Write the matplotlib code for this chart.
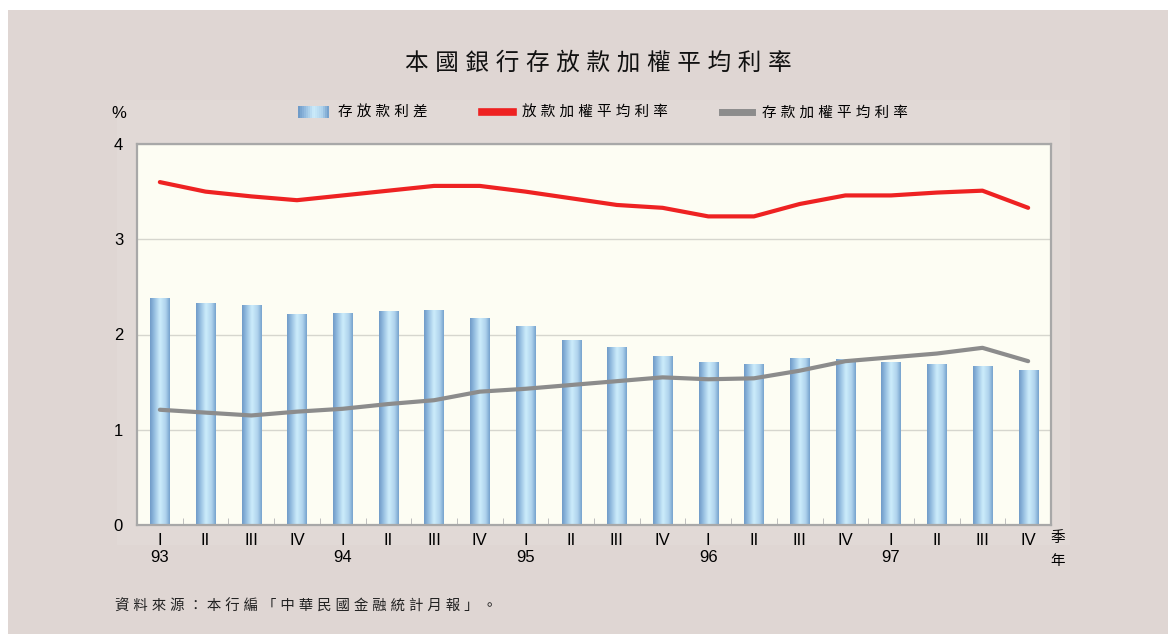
import numpy as np
import matplotlib.pyplot as plt
from matplotlib.colors import LinearSegmentedColormap
from matplotlib.patches import Rectangle
from matplotlib.legend_handler import HandlerBase
from matplotlib.lines import Line2D

plt.rcParams['font.family'] = ['Liberation Sans', 'Noto Sans CJK TC']

# data (quarters 93Q1 .. 97Q4)
quarters = ["I", "II", "III", "IV"] * 5
years = ["93", "94", "95", "96", "97"]
spread = [2.38, 2.33, 2.30, 2.21, 2.22, 2.24, 2.25, 2.17, 2.08, 1.94,
          1.86, 1.77, 1.71, 1.68, 1.75, 1.74, 1.71, 1.69, 1.66, 1.62]
loan_rate = [3.60, 3.50, 3.45, 3.41, 3.46, 3.51, 3.56, 3.56, 3.50, 3.43,
             3.36, 3.33, 3.24, 3.24, 3.37, 3.46, 3.46, 3.49, 3.51, 3.33]
deposit_rate = [1.21, 1.18, 1.15, 1.19, 1.22, 1.27, 1.31, 1.40, 1.43, 1.47,
                1.51, 1.55, 1.53, 1.54, 1.62, 1.72, 1.76, 1.80, 1.86, 1.72]

title = "本國銀行存放款加權平均利率"
legend_labels = ["存放款利差", "放款加權平均利率", "存款加權平均利率"]
source = "資料來源：本行編「中華民國金融統計月報」。"

W, H = 1168, 634


def spaced(s):
    return " ".join(s)


bar_cmap = LinearSegmentedColormap.from_list(
    "bar", [(0, "#6f9bc8"), (0.18, "#8fb8dd"), (0.5, "#cdedfb"),
            (0.8, "#aed2ec"), (1, "#76a2cd")])

fig = plt.figure(figsize=(W / 100, H / 100), dpi=100)
fig.patch.set_facecolor("white")
# pinkish background and slightly lighter panel behind the plot
fig.patches.append(Rectangle((8 / W, 0), 1 - 8 / W, 1 - 10 / H,
                             transform=fig.transFigure, facecolor="#dfd6d3",
                             edgecolor="none", zorder=-10))
fig.patches.append(Rectangle((117 / W, 1 - 545 / H), (1070 - 117) / W, (545 - 100) / H,
                             transform=fig.transFigure, facecolor="#e1d9d6",
                             edgecolor="none", zorder=-9))

ax = fig.add_axes([137 / W, 1 - 525 / H, (1051 - 137) / W, (525 - 144) / H])
ax.set_facecolor("#fdfdf3")

x = np.arange(len(spread))
bars = ax.bar(x, spread, width=0.42, color="none", edgecolor="none", zorder=2)
grad = np.linspace(0, 1, 64).reshape(1, -1)
for b in bars:
    x0, w, h = b.get_x(), b.get_width(), b.get_height()
    ax.imshow(grad, cmap=bar_cmap, extent=[x0, x0 + w, 0, h], aspect="auto",
              interpolation="bicubic", zorder=2)

ax.plot(x, loan_rate, color="#ee2222", lw=3, solid_capstyle="round", zorder=4)
ax.plot(x, deposit_rate, color="#8c8c8c", lw=3, solid_capstyle="round", zorder=4)

ax.set_xlim(-0.5, len(spread) - 0.5)
ax.set_ylim(0, 4)
ax.set_yticks([0, 1, 2, 3, 4])
ax.yaxis.grid(True, color="#d6d6ce", lw=1)
ax.set_axisbelow(True)

ax.set_xticks(x, quarters)
ax.set_xticks(np.arange(0.5, len(spread) - 1, 1), minor=True)
ax.tick_params(axis="x", which="major", length=0, pad=6, labelsize=12)
ax.tick_params(axis="x", which="minor", direction="in", length=5, color="#b5b5b5")
ax.tick_params(axis="y", length=0, pad=10, labelsize=12)

for s in ax.spines.values():
    s.set_color("#a8a8a8")
    s.set_linewidth(1.6)

for i, yr in enumerate(years):
    ax.text(i * 4, -0.086, yr, transform=ax.get_xaxis_transform(),
            ha="center", va="center", fontsize=12)

fig.text(1058 / W, 1 - 538 / H, "季", ha="center", va="center", fontsize=10.5)
fig.text(1058 / W, 1 - 561 / H, "年", ha="center", va="center", fontsize=10.5)
fig.text(119 / W, 1 - 113 / H, "%", ha="center", va="center", fontsize=12)

fig.text(598 / W, 1 - 63 / H, spaced(title), ha="center", va="center",
         fontsize=17, color="#111111")
fig.text(115 / W, 1 - 607 / H, spaced(source), ha="left", va="center",
         fontsize=10.4, color="#222222")


class GradHandler(HandlerBase):
    def create_artists(self, legend, orig, xd, yd, w, h, fontsize, trans):
        n = 16
        hh = h * 1.1
        y0 = yd + (h - hh) / 2
        return [Rectangle((xd + w * i / n, y0), w / n + 0.3, hh,
                          facecolor=bar_cmap(i / (n - 1)), edgecolor="none",
                          transform=trans) for i in range(n)]


handles = [Rectangle((0, 0), 1, 1),
           Line2D([], [], color="#ee2222", lw=5.5),
           Line2D([], [], color="#8c8c8c", lw=5)]
fig.legend(handles, [spaced(t) for t in legend_labels],
           handler_map={Rectangle: GradHandler()},
           loc="center", bbox_to_anchor=(603 / W, 1 - 113 / H), ncol=3,
           frameon=False, fontsize=10.5, handlelength=2.1, handletextpad=0.65,
           columnspacing=3.7)

fig.savefig("out.png", dpi=100)
